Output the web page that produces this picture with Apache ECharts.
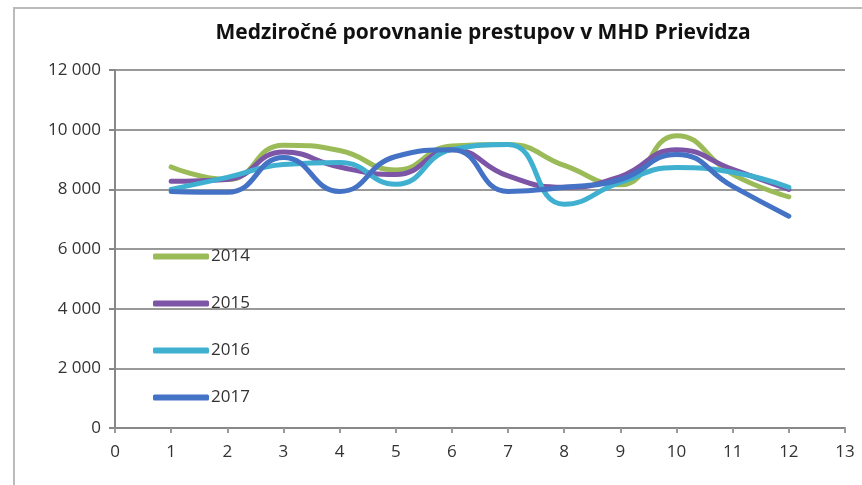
<!DOCTYPE html>
<html>
<head>
<meta charset="utf-8">
<script src="https://cdn.jsdelivr.net/npm/echarts@6/dist/echarts.min.js"></script>
<style>html,body{margin:0;padding:0;background:#fff}#c{width:862px;height:485px}</style>
</head>
<body>
<div id="c"></div>
<script>
const months = [1,2,3,4,5,6,7,8,9,10,11,12];
const seriesNames = ['2014','2015','2016','2017'];
const v2014 = [8750, 8330, 9480, 9300, 8650, 9450, 9500, 8800, 8150, 9800, 8500, 7750];
const v2015 = [8270, 8330, 9250, 8750, 8500, 9330, 8450, 8070, 8430, 9330, 8670, 8000];
const v2016 = [8000, 8400, 8830, 8900, 8170, 9330, 9500, 7500, 8230, 8730, 8570, 8070];
const v2017 = [7930, 7900, 9070, 7930, 9100, 9330, 7930, 8070, 8330, 9170, 8100, 7100];
const yTicks = [0, 2000, 4000, 6000, 8000, 10000, 12000];
const xTicks = [0,1,2,3,4,5,6,7,8,9,10,11,12,13];
const colors = ['#9bbb59', '#7d55a6', '#3fb0d0', '#4472c4'];
const allValues = [v2014, v2015, v2016, v2017];

const chart = echarts.init(document.getElementById('c'), null, {renderer: 'canvas'});
const fontFam = '"Liberation Sans Narrow", "Open Sans", sans-serif';
chart.setOption({
  animation: false,
  backgroundColor: '#fff',
  title: {
    text: 'Medziročné porovnanie prestupov v MHD Prievidza',
    left: 478, top: 18, textAlign: 'center',
    textStyle: {fontFamily: fontFam, fontSize: 21, fontWeight: 'bold', color: '#111'}
  },
  graphic: [{
    type: 'polyline', shape: {points: [[14, 485], [14, 8], [862, 8]]},
    style: {stroke: '#bbb', lineWidth: 2, fill: null}
  }],
  legend: {
    orient: 'vertical', left: 148, top: 243, itemGap: 30,
    itemWidth: 56, itemHeight: 6, icon: 'roundRect',
    data: seriesNames,
    textStyle: {fontFamily: fontFam, fontSize: 17, color: '#333', padding: [0,0,0,-3]}
  },
  grid: {left: 115, right: 17, top: 70, bottom: 57},
  xAxis: {
    type: 'value', min: xTicks[0], max: xTicks[xTicks.length-1], interval: 1,
    axisLine: {lineStyle: {color: '#888', width: 2}},
    axisTick: {show: true, length: 5, lineStyle: {color: '#999', width: 2}},
    splitLine: {show: false},
    axisLabel: {fontFamily: fontFam, fontSize: 17, color: '#333', margin: 16}
  },
  yAxis: {
    type: 'value', min: yTicks[0], max: yTicks[yTicks.length-1], interval: 2000,
    axisLine: {show: true, lineStyle: {color: '#888', width: 2}},
    axisTick: {show: true, length: 6, lineStyle: {color: '#888', width: 2}},
    splitLine: {show: true, lineStyle: {color: '#999', width: 2}},
    axisLabel: {
      fontFamily: fontFam, fontSize: 17, color: '#333', margin: 14,
      formatter: v => v >= 1000 ? Math.floor(v/1000) + ' ' + String(v % 1000).padStart(3, '0') : String(v)
    }
  },
  series: seriesNames.map((n, i) => ({
    name: n, type: 'line', smooth: 0.5, showSymbol: false, symbol: 'none',
    data: months.map((m, j) => [m, allValues[i][j]]),
    lineStyle: {color: colors[i], width: 5, cap: 'round'},
    itemStyle: {color: colors[i]}
  }))
});
</script>
</body>
</html>
